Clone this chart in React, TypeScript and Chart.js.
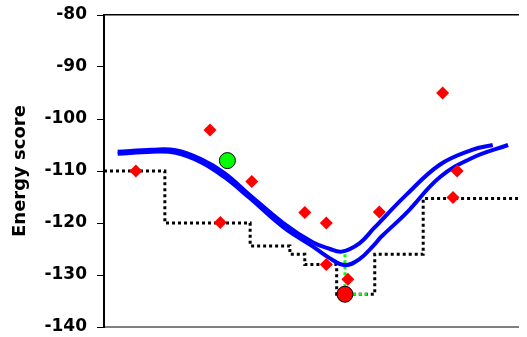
import React, { useEffect, useRef } from 'react';
import { Chart, registerables } from 'chart.js';

Chart.register(...registerables);

const yTicks = [-140, -130, -120, -110, -100, -90, -80];

const stepX = [0, 14.7, 14.7, 35.3, 35.3, 44.9, 44.9, 48.5, 48.5, 56.2, 56.2, 65.4, 65.4, 77.1, 77.1, 100];
const stepY = [-110, -110, -120, -120, -124.4, -124.4, -126, -126, -128, -128, -133.7, -133.7, -126, -126, -115.3, -115.3];

const curveAX = [3.3, 11.6, 17.3, 23.4, 29.1, 35.2, 43.3, 50.4, 54.6, 57.4, 61.7, 65.2, 73.0, 81.1, 88.9, 93.9];
const curveAY = [-106.3, -105.9, -106.0, -107.7, -110.4, -114.6, -120.0, -123.7, -125.0, -125.5, -123.9, -121.0, -114.6, -108.8, -105.95, -105.0];

const curveBX = [3.3, 11.6, 17.3, 23.4, 29.1, 35.2, 43.3, 50.4, 54.6, 58.2, 61.7, 65.2, 66.9, 73.0, 81.1, 88.9, 97.6];
const curveBY = [-106.7, -106.3, -106.5, -108.3, -111.2, -115.2, -120.8, -124.5, -126.8, -128.1, -126.95, -124.25, -122.7, -118.1, -111.2, -107.5, -105.0];

const diamondX = [7.7, 25.6, 28.1, 35.7, 48.5, 53.7, 53.7, 58.9, 66.5, 81.8, 85.3, 84.3];
const diamondY = [-110, -102.1, -119.9, -112, -118, -120, -128, -130.8, -117.9, -95, -110, -115.1];

const greenPointX = [29.8];
const greenPointY = [-108];
const redPointX = [58.2];
const redPointY = [-133.7];

const guideX = [58.2, 58.2, 63.6];
const guideY = [-126, -133.7, -133.7];

const zip = (xs: number[], ys: number[]) => xs.map((x, i) => ({ x, y: ys[i] }));

export default function App() {
  const ref = useRef<HTMLCanvasElement | null>(null);

  useEffect(() => {
    if (!ref.current) return;
    const chart = new Chart(ref.current, {
      type: 'line',
      data: {
        datasets: [
          {
            label: 'green',
            data: zip(greenPointX, greenPointY),
            showLine: false,
            pointRadius: 8,
            pointBackgroundColor: '#00ff00',
            pointBorderColor: '#000000',
            pointBorderWidth: 1,
            order: 1,
          },
          {
            label: 'red',
            data: zip(redPointX, redPointY),
            showLine: false,
            pointRadius: 8,
            pointBackgroundColor: '#ff0000',
            pointBorderColor: '#000000',
            pointBorderWidth: 1,
            order: 1,
          },
          {
            label: 'diamonds',
            data: zip(diamondX, diamondY),
            showLine: false,
            pointStyle: 'rectRot',
            pointRadius: 6.5,
            pointBackgroundColor: '#ff0000',
            pointBorderColor: '#ff0000',
            pointBorderWidth: 0,
            order: 2,
          },
          {
            label: 'curveA',
            data: zip(curveAX, curveAY),
            borderColor: '#0000ff',
            borderWidth: 4,
            pointRadius: 0,
            tension: 0.4,
            fill: false,
            order: 3,
          },
          {
            label: 'curveB',
            data: zip(curveBX, curveBY),
            borderColor: '#0000ff',
            borderWidth: 4,
            pointRadius: 0,
            tension: 0.4,
            fill: false,
            order: 3,
          },
          {
            label: 'guide',
            data: zip(guideX, guideY),
            borderColor: '#00ff00',
            borderWidth: 3,
            borderDash: [3, 3],
            pointRadius: 0,
            tension: 0,
            fill: false,
            order: 4,
          },
          {
            label: 'steps',
            data: zip(stepX, stepY),
            borderColor: '#000000',
            borderWidth: 3,
            borderDash: [3, 3],
            pointRadius: 0,
            tension: 0,
            fill: false,
            order: 5,
          },
        ],
      },
      options: {
        responsive: false,
        animation: false,
        layout: { padding: 0 },
        plugins: {
          legend: { display: false },
          tooltip: { enabled: false },
        },
        scales: {
          x: {
            type: 'linear',
            position: 'bottom',
            min: 0,
            max: 100,
            ticks: { display: false },
            grid: { display: false, drawTicks: false },
            border: { display: true, color: '#808080', width: 2 },
            afterFit: (s: any) => {
              s.height = 10;
            },
          },
          xTop: {
            type: 'linear',
            position: 'top',
            min: 0,
            max: 100,
            ticks: { display: false },
            grid: { display: false, drawTicks: false },
            border: { display: true, color: '#000000', width: 1.5 },
            afterFit: (s: any) => {
              s.height = 15;
            },
          },
          y: {
            type: 'linear',
            min: -140,
            max: -80,
            afterBuildTicks: (s: any) => {
              s.ticks = yTicks.map((v) => ({ value: v }));
            },
            ticks: {
              color: '#000000',
              padding: 10,
              font: { family: 'DejaVu Sans', weight: 'bold', size: 17 },
            },
            grid: {
              drawOnChartArea: false,
              drawTicks: true,
              tickLength: 7,
              color: '#000000',
            },
            border: { display: true, color: '#000000', width: 2 },
            title: {
              display: true,
              text: 'Energy score',
              color: '#000000',
              padding: { top: 10, bottom: 0 },
              font: { family: 'DejaVu Sans', weight: 'bold', size: 18 },
            },
            afterFit: (s: any) => {
              s.width = 104;
              s.paddingTop = 0;
              s.paddingBottom = 0;
            },
          },
        },
      },
    } as any);
    return () => chart.destroy();
  }, []);

  return (
    <div style={{ position: 'absolute', left: 0, top: 0, width: 527, height: 337 }}>
      <canvas ref={ref} width={527} height={337} />
    </div>
  );
}
